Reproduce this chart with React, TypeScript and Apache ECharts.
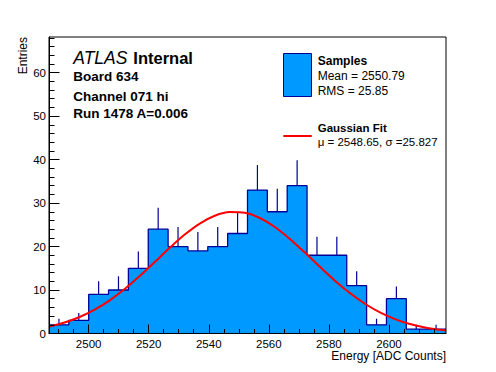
import React, { useEffect, useRef } from "react";
import * as echarts from "echarts";

// ---- data ----
const counts = [2, 3, 9, 10, 15, 24, 20, 19, 20, 23, 33, 28, 34, 18, 18, 11, 2, 8, 1, 1];
const errors = [1.41, 1.73, 3.0, 3.16, 3.87, 4.9, 4.47, 4.36, 4.47, 4.8, 5.74, 5.29, 5.83, 4.24, 4.24, 3.32, 1.41, 2.83, 1.0, 1.0];
const xMin = 2486.8;
const xMax = 2619.0;
const yMax = 68.2;

const fitX = [2487, 2492, 2497, 2502, 2507, 2512, 2517, 2522, 2527, 2532, 2537, 2542, 2547, 2552, 2557, 2562, 2567, 2572, 2577, 2582, 2587, 2592, 2597, 2602, 2607, 2612, 2617, 2619];
const fitY = [1.62, 2.53, 3.79, 5.48, 7.63, 10.23, 13.21, 16.44, 19.7, 22.75, 25.29, 27.09, 27.94, 27.77, 26.57, 24.5, 21.75, 18.61, 15.33, 12.16, 9.3, 6.85, 4.86, 3.32, 2.18, 1.38, 0.84, 0.69];

const xMajorTicks = [2500, 2520, 2540, 2560, 2580, 2600];
const xMinorTicks = [2490, 2495, 2505, 2510, 2515, 2525, 2530, 2535, 2545, 2550, 2555, 2565, 2570, 2575, 2585, 2590, 2595, 2605, 2610, 2615];
const yMajorTicks = [0, 10, 20, 30, 40, 50, 60];
const yMinorTicks = [2, 4, 6, 8, 12, 14, 16, 18, 22, 24, 26, 28, 32, 34, 36, 38, 42, 44, 46, 48, 52, 54, 56, 58, 62, 64, 66, 68];

const FONT = '"Liberation Sans", Arial, Helvetica, sans-serif';
const FILL = "#0099ff";
const EDGE = "#000099";

export default function App() {
  const ref = useRef<HTMLDivElement>(null);
  useEffect(() => {
    if (!ref.current) return;
    const chart = echarts.init(ref.current, undefined, { renderer: "svg" });
    const bw = (xMax - xMin) / counts.length;
    const stepData: number[][] = counts.map((c, i) => [xMin + i * bw, c]);
    stepData.push([xMax, counts[counts.length - 1]]);
    const errData = counts.map((c, i) => [xMin + (i + 0.5) * bw, c, errors[i]]);
    const fitData = fitX.map((x, i) => [x, fitY[i]]);

    const baseX = {
      type: "value",
      min: xMin,
      max: xMax,
      position: "bottom",
      splitLine: { show: false },
      z: 10,
    };
    const baseY = {
      type: "value",
      min: 0,
      max: yMax,
      position: "left",
      splitLine: { show: false },
      z: 10,
    };
    const txt = (text: string, x: number, y: number, size: number, extra: any = {}) => ({
      type: "text",
      x,
      y,
      style: {
        text,
        fill: "#000",
        fontFamily: FONT,
        fontSize: size,
        lineHeight: size,
        align: "left",
        verticalAlign: "middle",
        ...extra,
      },
    });

    chart.setOption({
      animation: false,
      backgroundColor: "#ffffff",
      grid: {
        left: 49,
        top: 37,
        width: 397,
        height: 296.5,
        show: true,
        borderColor: "#000",
        borderWidth: 1,
        backgroundColor: "transparent",
        z: 10,
      },
      xAxis: [
        {
          ...baseX,
          axisLine: { show: true, onZero: false, lineStyle: { color: "#000", width: 1 } },
          axisTick: { show: true, inside: true, length: 9, customValues: xMajorTicks, lineStyle: { color: "#000" } },
          axisLabel: {
            show: true,
            customValues: xMajorTicks,
            margin: 5,
            color: "#000",
            fontSize: 11.5,
            lineHeight: 11.5,
            fontFamily: FONT,
            formatter: (v: number) => String(Math.round(v)),
          },
        },
        {
          ...baseX,
          axisLine: { show: false, onZero: false },
          axisTick: { show: true, inside: true, length: 4.5, customValues: xMinorTicks, lineStyle: { color: "#000" } },
          axisLabel: { show: false },
        },
      ],
      yAxis: [
        {
          ...baseY,
          axisLine: { show: true, onZero: false, lineStyle: { color: "#000", width: 1 } },
          axisTick: { show: true, inside: true, length: 10.5, customValues: yMajorTicks, lineStyle: { color: "#000" } },
          axisLabel: {
            show: true,
            customValues: yMajorTicks,
            margin: 3,
            color: "#000",
            fontSize: 11.5,
            fontFamily: FONT,
            formatter: (v: number) => String(Math.round(v)),
          },
        },
        {
          ...baseY,
          axisLine: { show: false, onZero: false },
          axisTick: { show: true, inside: true, length: 5.5, customValues: yMinorTicks, lineStyle: { color: "#000" } },
          axisLabel: { show: false },
        },
      ],
      series: [
        {
          type: "line",
          name: "Samples",
          data: stepData,
          step: "end",
          symbol: "none",
          lineStyle: { color: EDGE, width: 1.3 },
          areaStyle: { color: FILL, opacity: 1 },
          z: 2,
        },
        {
          type: "custom",
          name: "errors",
          data: errData,
          z: 3,
          renderItem: (params: any, api: any) => {
            const x = api.value(0);
            const c = api.value(1);
            const e = api.value(2);
            const p0 = api.coord([x, c]);
            const p1 = api.coord([x, c + e]);
            return {
              type: "line",
              shape: { x1: p0[0], y1: p0[1], x2: p1[0], y2: p1[1] },
              style: { stroke: EDGE, lineWidth: 1.2 },
            };
          },
        },
        {
          type: "line",
          name: "Gaussian Fit",
          data: fitData,
          smooth: 0.3,
          symbol: "none",
          lineStyle: { color: "#ff0000", width: 2 },
          z: 4,
        },
      ],
      graphic: [
        txt("ATLAS", 73.3, 58, 17.5, { fontStyle: "italic" }),
        txt("Internal", 133.3, 58, 16.5, { fontWeight: "bold" }),
        txt("Board 634", 73.3, 76.2, 13.5, { fontWeight: "bold" }),
        txt("Channel 071 hi", 73.3, 96.2, 13.5, { fontWeight: "bold" }),
        txt("Run 1478 A=0.006", 73.3, 113.8, 13.5, { fontWeight: "bold" }),
        { type: "rect", shape: { x: 283.5, y: 53.5, width: 28, height: 43 }, style: { fill: FILL, stroke: EDGE, lineWidth: 1 } },
        txt("Samples", 317.7, 60.8, 12, { fontWeight: "bold" }),
        txt("Mean = 2550.79", 317.7, 76.2, 12),
        txt("RMS = 25.85", 317.7, 90.5, 12),
        { type: "line", shape: { x1: 283.3, y1: 136, x2: 311.7, y2: 136 }, style: { stroke: "#ff0000", lineWidth: 2 } },
        txt("Gaussian Fit", 317.7, 128, 11.5, { fontWeight: "bold", lineHeight: 10 }),
        txt("μ = 2548.65, σ =25.827", 317.7, 141.6, 11.5, { lineHeight: 10 }),
        txt("Energy [ADC Counts]", 446, 355.8, 12, { align: "right", lineHeight: 10 }),
        {
          type: "text",
          x: 22.5,
          y: 37,
          rotation: Math.PI / 2,
          style: {
            text: "Entries",
            fill: "#000",
            fontFamily: FONT,
            fontSize: 12,
            lineHeight: 12,
            align: "right",
            verticalAlign: "middle",
          },
        },
      ],
    });
    return () => chart.dispose();
  }, []);
  return (
    <div
      ref={ref}
      style={{ position: "fixed", left: 0, top: 0, width: 496, height: 372, background: "#fff" }}
    />
  );
}
